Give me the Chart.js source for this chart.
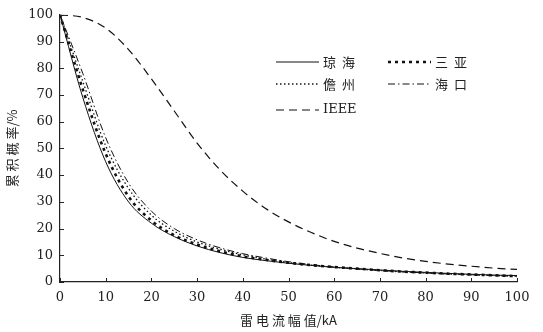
<!DOCTYPE html>
<html>
<head>
<meta charset="utf-8">
<script src="https://cdn.jsdelivr.net/npm/chart.js@4"></script>
<style>
  body { margin: 0; background: #fff; }
  #wrap { width: 543px; height: 332px; }
</style>
</head>
<body>
<div id="wrap"><canvas id="chart" width="543" height="332"></canvas></div>
<script>
// lightning current amplitude (kA) and cumulative probability (%)
const currents = [0, 5, 10, 15, 20, 25, 30, 35, 40, 45, 50, 55, 60, 65, 70, 75, 80, 85, 90, 95, 100];
const qionghai = [100, 69, 45, 30, 22, 17, 13.5, 11, 9.2, 8, 7, 6.2, 5.5, 5, 4.5, 4, 3.6, 3.2, 2.9, 2.6, 2.4];
const sanya    = [100, 72, 48, 32, 23, 17.5, 14, 11.5, 9.6, 8.3, 7.2, 6.3, 5.6, 5, 4.4, 3.9, 3.5, 3.1, 2.8, 2.5, 2.2];
const danzhou  = [100, 75, 51, 35, 25, 19, 15, 12.3, 10.2, 8.6, 7.3, 6.3, 5.5, 4.9, 4.3, 3.8, 3.4, 3, 2.7, 2.4, 2.2];
const haikou   = [100, 78, 54, 37, 26.5, 20, 15.8, 12.8, 10.6, 9, 7.6, 6.5, 5.6, 4.9, 4.3, 3.8, 3.4, 3, 2.7, 2.4, 2.2];
const ieee     = [100, 99, 95, 87, 76, 64, 52, 42, 34, 27.5, 22.5, 18.5, 15.2, 12.7, 10.7, 9, 7.7, 6.7, 5.9, 5.2, 4.7];

const tickFont = { family: 'DejaVu Serif', size: 13 };
const cjkFont = '"Noto Sans CJK SC", sans-serif';

function pts(arr) {
  return currents.map((x, i) => ({ x: x, y: arr[i] }));
}

function series(label, arr, dash, width) {
  return {
    label: label,
    data: pts(arr),
    borderColor: '#111',
    borderWidth: width,
    borderDash: dash,
    pointRadius: 0,
    fill: false,
    cubicInterpolationMode: 'monotone',
  };
}

// legend drawn by hand: 2 columns, like the original figure
const legendPlugin = {
  id: 'twoColLegend',
  afterDraw(chart) {
    const ctx = chart.ctx;
    const spots = [[276, 62], [388, 62], [276, 84], [388, 84], [276, 110]];
    chart.data.datasets.forEach((ds, i) => {
      const [x, y] = spots[i];
      ctx.save();
      ctx.strokeStyle = ds.borderColor;
      ctx.lineWidth = ds.borderWidth;
      ctx.setLineDash(ds.borderDash || []);
      ctx.beginPath();
      ctx.moveTo(x, y);
      ctx.lineTo(x + 43, y);
      ctx.stroke();
      ctx.restore();
      ctx.save();
      ctx.fillStyle = '#222';
      ctx.textBaseline = 'middle';
      if (ds.label === 'IEEE') {
        ctx.font = '13px "DejaVu Serif"';
      } else {
        ctx.font = '13px ' + cjkFont;
        ctx.letterSpacing = '6px';
      }
      ctx.fillText(ds.label, x + 47, y);
      ctx.restore();
    });
  }
};

// small ticks pointing into the plot
const innerTicks = {
  id: 'innerTicks',
  afterDraw(chart) {
    const ctx = chart.ctx;
    const { left, bottom } = chart.chartArea;
    const xs = chart.scales.x, ys = chart.scales.y;
    ctx.save();
    ctx.strokeStyle = '#222';
    ctx.lineWidth = 1;
    ctx.beginPath();
    xs.ticks.forEach(t => {
      const px = Math.round(xs.getPixelForValue(t.value)) + 0.5;
      ctx.moveTo(px, bottom);
      ctx.lineTo(px, bottom - 4);
    });
    ys.ticks.forEach(t => {
      const py = Math.round(ys.getPixelForValue(t.value)) + 0.5;
      ctx.moveTo(left, py);
      ctx.lineTo(left + 4, py);
    });
    ctx.stroke();
    ctx.restore();
  }
};

new Chart(document.getElementById('chart').getContext('2d'), {
  type: 'line',
  data: {
    datasets: [
      series('琼海', qionghai, [], 1),
      series('三亚', sanya, [3, 4], 2.6),
      series('儋州', danzhou, [1.5, 2.5], 1.3),
      series('海口', haikou, [7, 3, 1.5, 3], 1),
      series('IEEE', ieee, [8, 5], 1.2),
    ],
  },
  options: {
    responsive: false,
    animation: false,
    devicePixelRatio: 1,
    layout: { padding: { top: 12, right: 26, left: 0, bottom: 0 } },
    plugins: { legend: { display: false }, tooltip: { enabled: false } },
    scales: {
      x: {
        type: 'linear',
        min: 0,
        max: 100,
        afterFit: s => { s.height = 50; },
        grid: { drawOnChartArea: false, drawTicks: false, color: '#222' },
        border: { color: '#222', width: 1.2 },
        ticks: { stepSize: 10, color: '#222', font: tickFont, padding: 8, maxRotation: 0 },
        title: { display: true, text: '雷 电 流 幅 值/kA', color: '#222', font: { family: cjkFont, size: 13 }, padding: { top: 1 } },
      },
      y: {
        min: 0,
        max: 100,
        afterFit: s => { s.width = 60; },
        grid: { drawOnChartArea: false, drawTicks: false, color: '#222' },
        border: { color: '#222', width: 1.2 },
        ticks: { stepSize: 10, color: '#222', font: tickFont, padding: 7 },
        title: { display: true, text: '累 积 概 率/%', color: '#222', font: { family: cjkFont, size: 13 }, padding: { bottom: 2 } },
      },
    },
  },
  plugins: [legendPlugin, innerTicks],
});
</script>
</body>
</html>
